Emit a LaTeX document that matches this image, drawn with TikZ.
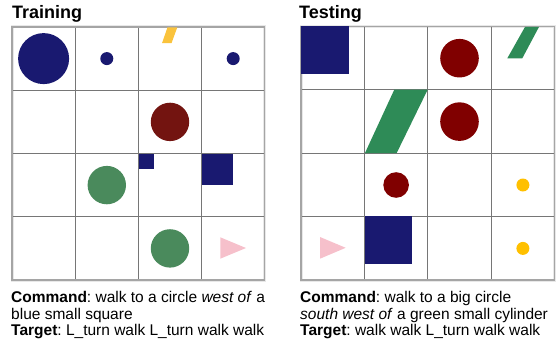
\documentclass[tikz,border=0pt]{standalone}
\usepackage{fontspec}
\setmainfont{Liberation Sans}
\frenchspacing
\definecolor{cblue}{RGB}{25,25,112}
\definecolor{tred}{RGB}{115,20,16}
\definecolor{tgreen}{RGB}{74,138,92}
\definecolor{tyellow}{RGB}{250,195,60}
\definecolor{cmaroon}{RGB}{128,0,0}
\definecolor{cgreen}{RGB}{46,139,87}
\definecolor{cyellow}{RGB}{255,192,0}
\definecolor{cpink}{RGB}{246,192,203}
\definecolor{gridc}{RGB}{118,118,118}
\definecolor{framec}{RGB}{165,165,165}
\definecolor{haloc}{RGB}{232,232,232}
\tikzset{
  title/.style={anchor=base west, inner sep=0pt, font=\fontsize{18}{20}\selectfont\bfseries},
  caption/.style={anchor=base west, inner sep=0pt, font=\fontsize{15.5}{16}\selectfont\frenchspacing},
  gridline/.style={draw=gridc, line width=1pt},
  frameline/.style={draw=framec, line width=1.2pt},
  halo/.style={draw=haloc, line width=3pt},
}
\begin{document}
\begin{tikzpicture}[x=1pt,y=-1pt]
\useasboundingbox (0,0) rectangle (556,342);
% ---------- Training grid ----------
\draw[halo] (12,27) rectangle (264.5,280);
\foreach \i in {1,2,3}{
  \draw[gridline] ({12+\i*63.125},27) -- ({12+\i*63.125},280);
  \draw[gridline] (12,{27+\i*63.25}) -- (264.5,{27+\i*63.25});
}
\draw[frameline] (12,27) rectangle (264.5,280);
% shapes
\fill[cblue] (43.6,58.6) circle (25.5);
\fill[cblue] (106.8,58.6) circle (6.5);
\fill[cblue] (233.2,58.6) circle (6.5);
\fill[tyellow] (162,43.2) -- (171.5,43.2) -- (177.3,27.3) -- (167.5,27.3) -- cycle;
\fill[tred] (170,121.9) circle (19.2);
\fill[cblue] (138.7,153.7) rectangle (154.3,169.3);
\fill[cblue] (201.7,153.7) rectangle (233.3,185);
\fill[tgreen] (106.8,185.1) circle (19.2);
\fill[tgreen] (170,248.4) circle (19.2);
\fill[cpink] (220.3,237.3) -- (246,248) -- (220.3,258.7) -- cycle;
% ---------- Testing grid ----------
\draw[halo] (301,26.5) rectangle (554.6,280);
\foreach \i in {1,2,3}{
  \draw[gridline] ({301+\i*63.4},26.5) -- ({301+\i*63.4},280);
  \draw[gridline] (301,{26.5+\i*63.375}) -- (554.6,{26.5+\i*63.375});
}
\draw[frameline] (301,26.5) rectangle (554.6,280);
% shapes
\fill[cblue] (301,26.5) rectangle (348.7,73.7);
\fill[cmaroon] (459.5,58.2) circle (19.3);
\fill[cmaroon] (459.5,121.6) circle (19.3);
\fill[cgreen] (507.3,58.3) -- (522.3,58.3) -- (539,26.9) -- (525,26.9) -- cycle;
\fill[cgreen] (365,153) -- (396.7,153) -- (427.7,89.6) -- (394.3,89.6) -- cycle;
\fill[cmaroon] (396.1,185) circle (12.8);
\fill[cyellow] (522.9,185) circle (6.5);
\fill[cyellow] (522.9,248.4) circle (6.5);
\fill[cpink] (320,237) -- (345.7,247.8) -- (320,258.7) -- cycle;
\fill[cblue] (364.7,216.3) rectangle (412.3,264);
% ---------- Text ----------
\node[title] (ttrain) at (12,19) {Training};
\node[title] (ttest) at (299,19) {Testing};
\node[caption] (l1a) at (11,302.5) {\textbf{Command}: walk to a circle \textit{west of} a};
\node[caption] (l1b) at (11,319) {blue small square};
\node[caption] (l1c) at (11,335.5) {\textbf{Target}: L\_turn walk L\_turn walk walk};
\node[caption] (l2a) at (300,302.5) {\textbf{Command}: walk to a big circle};
\node[caption] (l2b) at (300,319) {\textit{south west of} a green small cylinder};
\node[caption] (l2c) at (300,335.5) {\textbf{Target}: walk walk L\_turn walk walk};
\end{tikzpicture}
\end{document}
